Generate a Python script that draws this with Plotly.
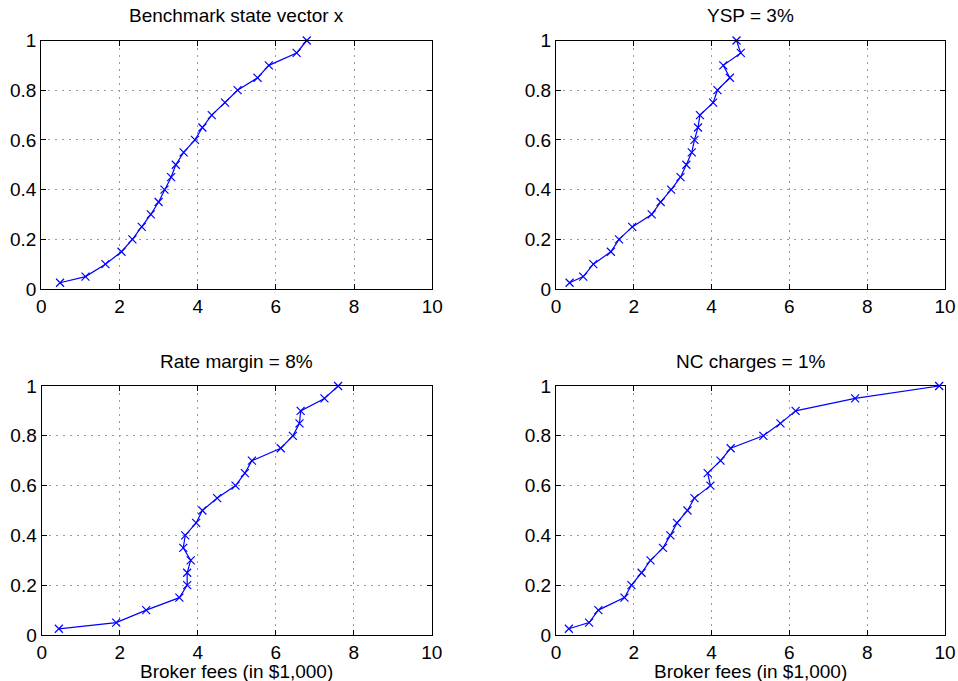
import plotly.graph_objects as go

# Cumulative probability levels shared by all four panels
prob = [0.025, 0.05, 0.10, 0.15, 0.20, 0.25, 0.30, 0.35, 0.40, 0.45, 0.50,
        0.55, 0.60, 0.65, 0.70, 0.75, 0.80, 0.85, 0.90, 0.95, 1.00]

# Broker fees (in $1,000) for each scenario
fees_benchmark = [0.48, 1.13, 1.64, 2.05, 2.33, 2.57, 2.80, 3.00, 3.15, 3.32, 3.44,
                  3.64, 3.93, 4.12, 4.36, 4.70, 5.02, 5.53, 5.82, 6.53, 6.79]
fees_ysp = [0.35, 0.70, 0.96, 1.41, 1.62, 1.96, 2.46, 2.69, 2.96, 3.20, 3.35,
            3.49, 3.56, 3.65, 3.70, 4.04, 4.15, 4.47, 4.30, 4.75, 4.64]
fees_rate = [0.44, 1.91, 2.68, 3.53, 3.73, 3.73, 3.82, 3.63, 3.68, 3.96, 4.12,
             4.50, 4.97, 5.21, 5.39, 6.13, 6.44, 6.61, 6.64, 7.25, 7.60]
fees_nc = [0.33, 0.85, 1.09, 1.76, 1.94, 2.20, 2.43, 2.75, 2.94, 3.11, 3.38,
           3.56, 3.97, 3.90, 4.23, 4.49, 5.33, 5.77, 6.16, 7.69, 9.85]

titles = ["Benchmark state vector x", "YSP = 3%", "Rate margin = 8%", "NC charges = 1%"]
series = [fees_benchmark, fees_ysp, fees_rate, fees_nc]
x_ticks = [0, 2, 4, 6, 8, 10]
y_ticks = [0, 0.2, 0.4, 0.6, 0.8, 1]
y_tick_text = ["0", "0.2", "0.4", "0.6", "0.8", "1"]
x_label = "Broker fees (in $1,000)"

W, H = 958, 681
FONT = "Liberation Sans, Arial, Helvetica, sans-serif"
FS = 19

# Panel boxes in pixels: (left, right, top, bottom)
boxes = [(41.3, 432.3, 40.5, 289.0), (556.0, 945.0, 40.5, 289.0),
         (41.7, 431.7, 386.0, 635.0), (556.0, 945.0, 386.0, 635.0)]

fig = go.Figure()
annotations = []
for i, (xs, ttl, box) in enumerate(zip(series, titles, boxes)):
    l, r, t, b = box
    sfx = "" if i == 0 else str(i + 1)
    fig.add_trace(go.Scatter(
        x=xs, y=prob, mode="lines+markers",
        line=dict(color="#0000ff", width=1.2),
        marker=dict(symbol="x-thin", size=8, line=dict(color="#0000ff", width=1.2)),
        xaxis="x" + sfx, yaxis="y" + sfx, cliponaxis=False, showlegend=False))
    axis_common = dict(
        showline=True, linecolor="black", linewidth=1.3, mirror="ticks",
        ticks="inside", ticklen=5, tickcolor="black", tickwidth=1,
        showgrid=True, gridcolor="#9a9a9a", gridwidth=1, griddash="2px,5px",
        zeroline=False, automargin=False,
        tickfont=dict(family=FONT, size=FS, color="black"),
        fixedrange=True)
    fig.update_layout(**{
        "xaxis" + sfx: dict(axis_common, domain=[l / W, r / W], range=[0, 10],
                            tickvals=x_ticks, ticktext=[str(v) for v in x_ticks],
                            anchor="y" + sfx),
        "yaxis" + sfx: dict(axis_common, domain=[1 - b / H, 1 - t / H], range=[0, 1],
                            tickvals=y_ticks, ticktext=y_tick_text,
                            anchor="x" + sfx),
    })
    annotations.append(dict(
        text=ttl, xref="paper", yref="paper", x=(l + r) / 2 / W, y=1 - (t - 12) / H,
        xanchor="center", yanchor="bottom", showarrow=False,
        font=dict(family=FONT, size=FS, color="black")))
    if i >= 2:
        annotations.append(dict(
            text=x_label, xref="paper", yref="paper", x=(l + r) / 2 / W, y=1 - 684 / H,
            xanchor="center", yanchor="bottom", showarrow=False,
            font=dict(family=FONT, size=FS, color="black")))

fig.update_layout(
    width=W, height=H, margin=dict(l=0, r=0, t=0, b=0, autoexpand=False),
    paper_bgcolor="white", plot_bgcolor="white",
    annotations=annotations, font=dict(family=FONT, size=FS, color="black"))

fig.write_html("out.html", config={"displayModeBar": False})
